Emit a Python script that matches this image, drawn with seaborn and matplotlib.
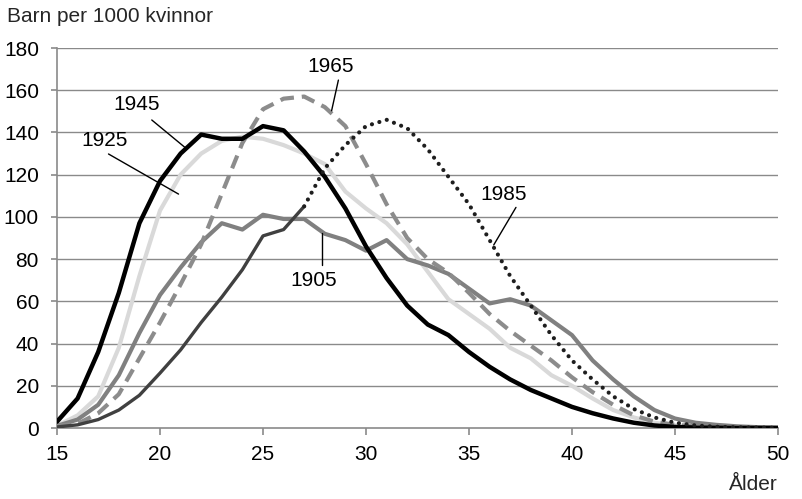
import matplotlib
matplotlib.use("Agg")
import matplotlib.pyplot as plt
import seaborn as sns
import pandas as pd

ages = list(range(15, 51))

y1905 = [1, 4, 11, 25, 45, 63, 76, 88, 97, 94, 101, 99, 99, 92, 89, 84, 89, 80, 77, 73,
         66, 59, 61, 58, 51, 44, 32, 23, 15, 8.5, 4.5, 2.5, 1.5, 0.8, 0.4, 0.2]
y1925 = [1, 6, 15, 38, 72, 103, 120, 130, 136, 138, 137, 134, 130, 125, 112, 104, 97, 87, 74, 61,
         54, 47, 38, 33, 25, 20, 14, 8.5, 5, 2.5, 1.2, 0.6, 0.3, 0.1, 0.1, 0]
y1945 = [3, 14, 36, 64, 97, 117, 130, 139, 137, 137, 143, 141, 131, 119, 104, 86, 71, 58, 49, 44,
         36, 29, 23, 18, 14, 10, 7, 4.5, 2.5, 1.2, 0.5, 0.2, 0.1, 0, 0, 0]
y1965 = [1, 2, 7, 16, 33, 50, 68, 87, 111, 135, 151, 156, 157, 152, 143, 125, 106, 90, 80, 73.5,
         64, 54, 46, 39, 32, 24, 17, 11, 6, 3, 1.5, 0.8, 0.4, 0.2, 0.1, 0]
y1985 = [0.5, 1.5, 4, 8.5, 15.5, 26, 37, 50, 62, 75, 91, 94, 105, 123, 134, 143, 146, 142, 132, 119,
         106, 89, 72, 58, 44, 32, 23, 15, 9, 5, 2.5, 1.2, 0.6, 0.3, 0.2, 0.1]
split_age = 27  # 1985: observed (solid) up to this age, dotted after

xticks = [15, 20, 25, 30, 35, 40, 45, 50]
yticks = [0, 20, 40, 60, 80, 100, 120, 140, 160, 180]

sns.set_theme(style="white")
plt.rcParams["font.family"] = ["Liberation Sans", "DejaVu Sans"]
FS = 15

df = pd.DataFrame({"age": ages, "1905": y1905, "1925": y1925, "1945": y1945,
                   "1965": y1965, "1985": y1985})

fig = plt.figure(figsize=(8.03, 4.99), dpi=100)
ax = fig.add_axes([57 / 803, 1 - 428 / 499, (778 - 57) / 803, (428 - 48) / 499])

grid_c = "#8a8a8a"
for v in yticks[1:]:
    ax.axhline(v, color=grid_c, lw=1.0, zorder=0)

kw = dict(ax=ax, estimator=None, errorbar=None, legend=False)
sns.lineplot(data=df, x="age", y="1925", color="#d9d9d9", lw=3.0, zorder=2, **kw)
sns.lineplot(data=df, x="age", y="1905", color="#808080", lw=3.0, zorder=3, **kw)
sns.lineplot(data=df, x="age", y="1965", color="#8c8c8c", lw=3.0, zorder=4,
             linestyle=(0, (3.3, 1.9)), **kw)
sns.lineplot(data=df, x="age", y="1945", color="#000000", lw=3.2, zorder=5, **kw)
obs = df[df["age"] <= split_age]
proj = df[df["age"] >= split_age]
sns.lineplot(data=obs, x="age", y="1985", color="#404040", lw=2.4, zorder=6, **kw)
ln = sns.lineplot(data=proj, x="age", y="1985", color="#1e1e1e", lw=3.0, zorder=6,
                  linestyle=(0, (0.01, 1.85)), **kw)
ln.lines[-1].set_dash_capstyle("round")

# labels with leader lines
labels = [
    ("1945", 18.88, 153.0, (19.6, 21.2), (145.9, 133.0)),
    ("1925", 17.3, 136.4, (17.5, 20.9), (129.8, 110.8)),
    ("1965", 28.3, 171.0, (28.66, 28.33), (164.8, 150.3)),
    ("1985", 36.67, 110.8, (37.28, 36.2), (104.5, 86.7)),
    ("1905", 27.44, 70.0, (27.85, 27.85), (92.2, 77.2)),
]
for txt, tx, ty, lx, ly in labels:
    ax.text(tx, ty, txt, fontsize=FS, ha="center", va="center", color="#000000", zorder=8)
    ax.plot(lx, ly, color="#000000", lw=1.0, zorder=8)

ax.set_xlim(15, 50)
ax.set_ylim(0, 180)
ax.set_xticks(xticks)
ax.set_yticks(yticks)
ax.set_xlabel("")
ax.set_ylabel("")
for s in ["top", "right"]:
    ax.spines[s].set_visible(False)
for s in ["left", "bottom"]:
    ax.spines[s].set_color(grid_c)
    ax.spines[s].set_linewidth(1.2)
ax.tick_params(axis="y", which="major", left=True, length=4, width=1.2, color=grid_c,
               pad=9, labelsize=FS, labelcolor="#000000")
ax.tick_params(axis="x", which="major", bottom=True, length=5, width=1.2, color=grid_c,
               pad=7, labelsize=FS, labelcolor="#000000")
ax.grid(False)

fig.text(7 / 803, 1 - 17 / 499, "Barn per 1000 kvinnor", fontsize=FS, ha="left", va="center")
fig.text(778 / 803, 1 - 485 / 499, "Ålder", fontsize=FS, ha="right", va="center")

fig.savefig("out.png", dpi=100)
